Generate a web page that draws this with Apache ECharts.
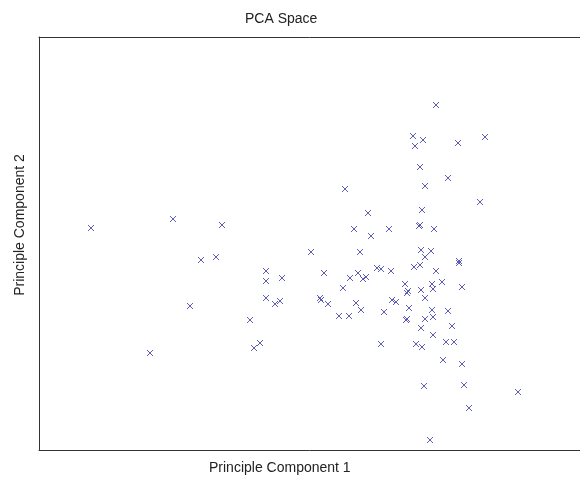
<!DOCTYPE html>
<html>
<head>
<meta charset="utf-8">
<script src="https://cdn.jsdelivr.net/npm/echarts@6/dist/echarts.min.js"></script>
<style>html,body{margin:0;padding:0;background:#fff}#c{width:580px;height:481px}</style>
</head>
<body>
<div id="c"></div>
<script>
const chartTitle = "PCA Space";
const xLabel = "Principle Component 1";
const yLabel = "Principle Component 2";
const pc1 = [-2.48,-1.66,-1.17,-1.38,-1.23,-0.73,-0.73,-0.73,-0.64,-1.49,-0.89,-1.89,-0.85,-0.79,-0.28,0.21,-0.57,-0.15,0.11,0.19,0.24,0.27,0.04,-0.59,-0.18,-0.19,-0.11,0.17,0.22,0.00,0.10,0.82,0.92,0.86,1.20,1.20,0.38,0.42,0.52,0.75,0.81,0.97,0.66,0.69,0.68,0.82,0.93,0.94,1.03,1.23,0.86,0.53,0.57,0.70,0.93,1.09,0.45,0.67,0.68,0.86,0.94,0.82,1.13,0.94,1.07,1.15,0.42,0.77,0.83,1.04,1.23,0.85,1.25,1.79,1.30,0.91,0.97,0.74,0.84,0.76,1.19,1.46,0.81,1.09,0.86,0.06,1.41,0.83,0.29,0.15,0.50,0.32,0.80,0.81,0.95];
const pc2 = [0.22,0.31,0.25,-0.10,-0.07,-0.21,-0.31,-0.48,-0.54,-0.56,-0.70,-1.03,-0.98,-0.93,-0.02,-0.02,-0.28,-0.23,-0.28,-0.23,-0.29,-0.27,-0.38,-0.51,-0.50,-0.48,-0.54,-0.53,-0.60,-0.66,-0.66,0.00,-0.01,-0.07,-0.11,-0.13,-0.18,-0.19,-0.21,-0.17,-0.15,-0.21,-0.34,-0.41,-0.43,-0.40,-0.34,-0.39,-0.32,-0.37,-0.48,-0.50,-0.52,-0.58,-0.60,-0.61,-0.62,-0.70,-0.69,-0.69,-0.67,-0.78,-0.76,-0.85,-0.92,-0.92,-0.94,-0.94,-0.97,-1.10,-1.14,-1.36,-1.35,-1.42,-1.58,-1.90,1.45,1.14,1.10,1.04,1.07,1.13,0.83,0.72,0.64,0.61,0.48,0.40,0.37,0.21,0.21,0.14,0.24,0.25,0.21];

const points = pc1.map((v, i) => [v, pc2[i]]);
const chart = echarts.init(document.getElementById('c'));
const txt = {fontFamily: 'Liberation Sans, Arial, sans-serif', fontSize: 14, fill: '#222'};
const frame = {show: true, onZero: false, lineStyle: {color: '#333', width: 1}};
const hidden = {axisTick: {show: false}, axisLabel: {show: false}, splitLine: {show: false}};
chart.setOption({
  animation: false,
  grid: {left: 39, top: 37, right: 0, height: 413},
  xAxis: [
    Object.assign({type: 'value', min: -3, max: 2.41, position: 'bottom', axisLine: frame}, hidden),
    Object.assign({type: 'value', min: -3, max: 2.41, position: 'top', axisLine: frame}, hidden)
  ],
  yAxis: Object.assign({type: 'value', min: -2, max: 2.13, position: 'left', axisLine: frame}, hidden),
  graphic: [
    {type: 'text', left: 282 - 37, top: 12, style: Object.assign({text: chartTitle}, txt)},
    {type: 'text', left: 209, top: 461, style: Object.assign({text: xLabel}, txt)},
    {type: 'text', x: 20, y: 225, rotation: Math.PI / 2, style: Object.assign({text: yLabel, textAlign: 'center', textVerticalAlign: 'middle'}, txt)}
  ],
  series: [{
    type: 'scatter',
    xAxisIndex: 0,
    data: points,
    symbol: 'path://M0,0L10,10M10,0L0,10',
    symbolSize: 6,
    itemStyle: {color: 'none', borderColor: '#4a4ab4', borderWidth: 1, opacity: 0.9}
  }]
});
</script>
</body>
</html>
